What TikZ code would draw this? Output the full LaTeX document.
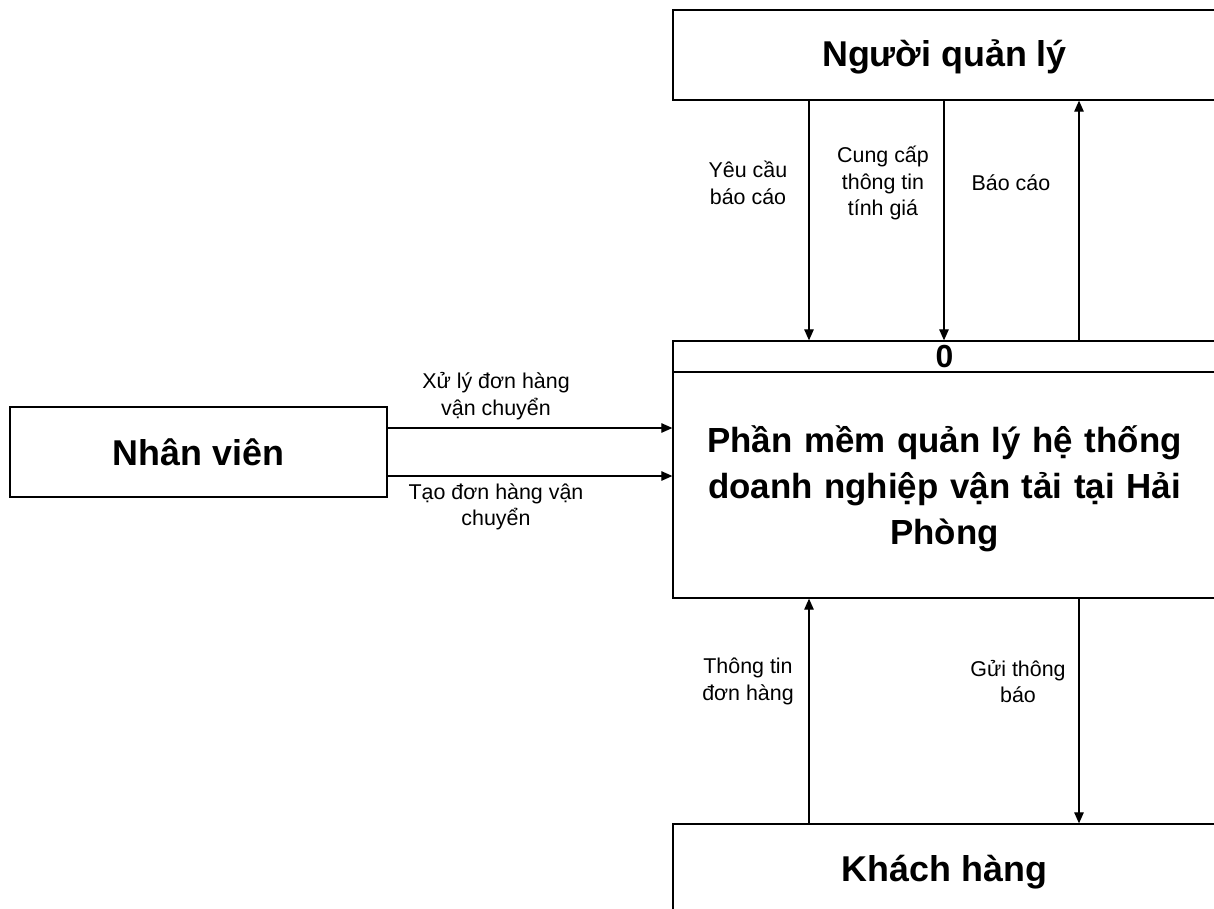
\documentclass[tikz,border=0pt]{standalone}
\usepackage{fontspec}
\setmainfont{Liberation Sans}
\usetikzlibrary{arrows.meta}
\begin{document}
\begin{tikzpicture}[x=1bp,y=-1bp,
  box/.style={draw, line width=1.3bp, inner sep=0pt, align=center,
    font=\bfseries\fontsize{36}{46}\selectfont},
  title/.style={inner sep=0pt, align=center, font=\bfseries\fontsize{35}{46}\selectfont},
  flow/.style={line width=1.2bp, -{Triangle[length=11bp,width=9.5bp]}},
  lbl/.style={inner sep=0pt, align=center, font=\fontsize{21.5}{26.5}\selectfont}]
\useasboundingbox (0,0) rectangle (1214,909);

% external entities
\node[box, minimum width=543bp, minimum height=90bp, text depth=4bp] (mgr) at (944.5,55) {Người quản lý};
\node[box, minimum width=377bp, minimum height=90bp] (emp) at (198.5,452) {Nhân viên};
\node[box, minimum width=543bp, minimum height=92bp, text depth=4bp] (cust) at (944.5,870) {Khách hàng};

% process 0: number strip and body
\node[box, minimum width=543bp, minimum height=31bp, font=\bfseries\fontsize{32}{32}\selectfont] (hdr) at (944.5,356.5) {0};
\node[box, minimum width=543bp, minimum height=226bp] (body) at (944.5,485) {};
\node[title, text width=530bp] (bodytxt) at (944.5,489)
  {Phần mềm quản lý hệ thống\\doanh nghiệp vận tải tại Hải\\Phòng};

% connector columns and rows
\coordinate (xa) at (809,0);
\coordinate (xb) at (944,0);
\coordinate (xc) at (1079,0);
\coordinate (ya) at (0,428);
\coordinate (yb) at (0,476);

% flows
\draw[flow] (xa |- mgr.south) -- (xa |- hdr.north);
\draw[flow] (xb |- mgr.south) -- (xb |- hdr.north);
\draw[flow] (xc |- hdr.north) -- (xc |- mgr.south);
\draw[flow] (xa |- cust.north) -- (xa |- body.south);
\draw[flow] (xc |- body.south) -- (xc |- cust.north);
\draw[flow] (emp.east |- ya) -- (body.west |- ya);
\draw[flow] (emp.east |- yb) -- (body.west |- yb);

% flow labels
\node[lbl] (l1) at (748,183) {Yêu cầu\\báo cáo};
\node[lbl] (l2) at (883,183) {Cung cấp\\thông tin\\tính giá};
\node[lbl] (l3) at (1011,183) {Báo cáo};
\node[lbl] (l4) at (748,681.5) {Thông tin\\đơn hàng};
\node[lbl] (l5) at (1018,681.5) {Gửi thông\\báo};
\node[lbl] (l6) at (496,396) {Xử lý đơn hàng\\vận chuyển};
\node[lbl] (l7) at (496,507) {Tạo đơn hàng vận\\chuyển};
\end{tikzpicture}
\end{document}
